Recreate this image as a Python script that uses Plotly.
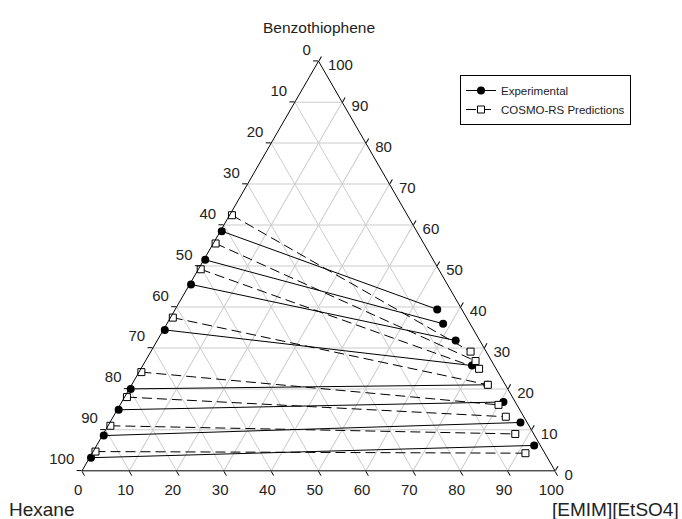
import plotly.graph_objects as go

# Experimental tie lines: hexane-rich phase (left) and IL-rich phase (right), mass %
exp_left_benzo = [58.5, 51.5, 45.5, 34.4, 20.0, 14.9, 8.6, 3.2]
exp_left_il = [0.3, 0.3, 0.3, 0.3, 0.3, 0.3, 0.3, 0.3]
exp_right_benzo = [39.4, 35.9, 31.8, 25.7, 21.0, 16.8, 11.8, 6.2]
exp_right_il = [55.4, 58.4, 63.1, 69.6, 75.2, 80.7, 86.8, 92.5]

# COSMO-RS predicted tie lines
cos_left_benzo = [62.4, 55.5, 49.2, 37.4, 24.1, 18.0, 11.0, 4.7]
cos_left_il = [0.5, 0.5, 0.5, 0.5, 0.5, 0.5, 0.5, 0.5]
cos_right_benzo = [29.1, 26.8, 24.9, 21.0, 16.1, 13.2, 9.0, 4.3]
cos_right_il = [67.6, 69.8, 71.5, 75.3, 80.0, 83.0, 87.1, 91.6]

tick_vals = [0, 10, 20, 30, 40, 50, 60, 70, 80, 90, 100]
tick_labels = [str(100 - v) for v in tick_vals]

FONT = "Liberation Sans, Arial, Helvetica, sans-serif"
NB = "\u00a0"

fig = go.Figure()


def add_ties(lb, li, rb, ri, name, line, marker):
    for i in range(len(lb)):
        a = [lb[i], rb[i]]
        c = [li[i], ri[i]]
        b = [100 - a[0] - c[0], 100 - a[1] - c[1]]
        fig.add_trace(go.Scatterternary(
            a=a, b=b, c=c, mode="lines+markers", name=name,
            legendgroup=name, showlegend=(i == 0),
            line=line, marker=marker, cliponaxis=False,
        ))


add_ties(exp_left_benzo, exp_left_il, exp_right_benzo, exp_right_il,
         "Experimental", dict(color="black", width=1),
         dict(symbol="circle", size=8, color="black"))
add_ties(cos_left_benzo, cos_left_il, cos_right_benzo, cos_right_il,
         "COSMO-RS Predictions", dict(color="black", width=1, dash="10px,5px"),
         dict(symbol="square", size=7, color="white",
              line=dict(color="black", width=1)))

axis_common = dict(
    tickmode="array", tickvals=tick_vals,
    linecolor="black", linewidth=1, gridcolor="#cccccc", gridwidth=1,
    ticks="outside", ticklen=5, tickcolor="black",
    tickfont=dict(size=15, color="#222222", family=FONT),
    showgrid=True, min=0, title=dict(text=""),
)

fig.update_layout(
    width=682, height=519,
    margin=dict(l=0, r=0, t=0, b=0),
    paper_bgcolor="white",
    font=dict(family=FONT, color="#222222"),
    ternary=dict(
        sum=100,
        bgcolor="white",
        domain=dict(x=[82 / 682, 555 / 682], y=[48 / 519, 458 / 519]),
        aaxis=dict(ticktext=[t + "<br>" + NB for t in tick_labels], **axis_common),
        baxis=dict(ticktext=[t + NB * 3 for t in tick_labels], **axis_common),
        caxis=dict(ticktext=[NB + "<br>" + NB + t for t in tick_labels], **axis_common),
    ),
    legend=dict(
        x=631 / 682, y=1 - 75 / 519, xanchor="right", yanchor="top",
        bordercolor="black", borderwidth=1, bgcolor="white",
        font=dict(size=11.5, family=FONT, color="#222222"), tracegroupgap=0,
    ),
    annotations=[
        dict(text="Benzothiophene", x=318.5 / 682, y=1 - 27 / 519,
             xref="paper", yref="paper", xanchor="center", yanchor="middle",
             showarrow=False, font=dict(size=15.5, family=FONT, color="#222222")),
        dict(text="Hexane", x=77 / 682, y=1 - 509 / 519,
             xref="paper", yref="paper", xanchor="right", yanchor="middle",
             showarrow=False, font=dict(size=19, family=FONT, color="#222222")),
        dict(text="[EMIM][EtSO4]", x=681 / 682, y=1 - 509 / 519,
             xref="paper", yref="paper", xanchor="right", yanchor="middle",
             showarrow=False, font=dict(size=19, family=FONT, color="#222222")),
    ],
)

fig.write_html("out.html")
